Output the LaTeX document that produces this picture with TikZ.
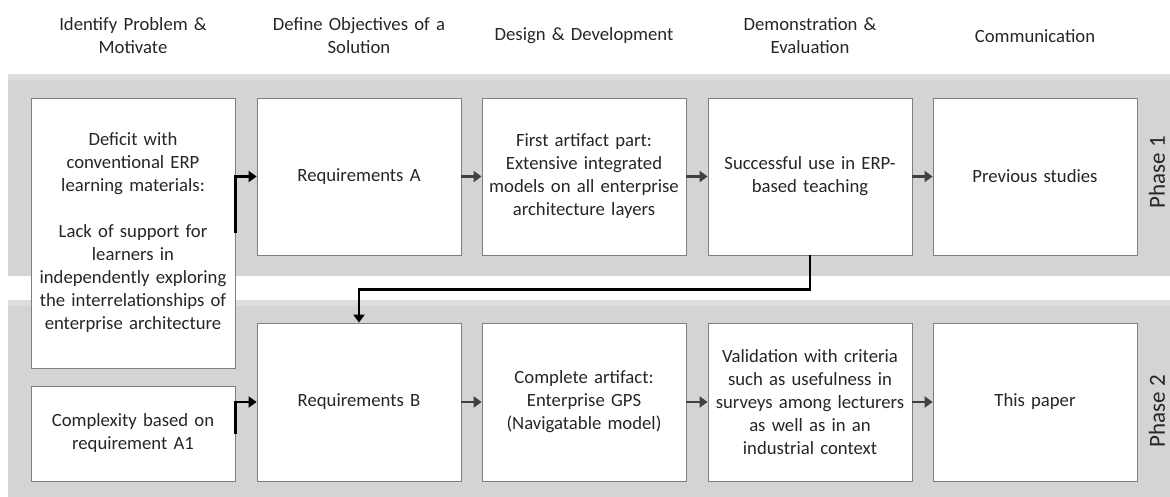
\documentclass[tikz,border=0pt]{standalone}
\usepackage{fontspec}
\setmainfont{Carlito}
\usetikzlibrary{arrows.meta}
\definecolor{band}{HTML}{D4D4D4}
\definecolor{bandtop}{HTML}{DDDDDD}
\definecolor{boxline}{HTML}{7F7F7F}
\definecolor{arrowgray}{HTML}{404040}
\begin{document}
\begin{tikzpicture}[x=1pt,y=-1pt,
  every node/.style={font=\fontsize{18.7}{23}\selectfont, text=black!85},
  stepbox/.style={draw=boxline, line width=0.8pt, fill=white, minimum width=204pt, minimum height=157pt, text width=200pt, align=center, inner sep=0pt},
  head/.style={align=center, text width=220pt},
  phase/.style={rotate=90, font=\fontsize{23}{26}\selectfont},
  flow/.style={draw=arrowgray, line width=2.2pt, -{Triangle[length=8pt,width=11pt]}},
  link/.style={draw=black, line width=2.2pt, -{Triangle[length=8pt,width=11pt]}}
]
\path[use as bounding box] (0,0) rectangle (1170,497);
% bands
\fill[band] (8,74) rectangle (1170,276);
\fill[bandtop] (8,74) rectangle (1170,80);
\fill[band] (8,300) rectangle (1170,497);
\fill[bandtop] (8,300) rectangle (1170,306);
% headers
\node[head] (h1) at (133,36) {Identify Problem \&\\Motivate};
\node[head] (h2) at (359,36) {Define Objectives of a\\Solution};
\node[head] (h3) at (584,36) {Design \& Development};
\node[head] (h4) at (810,36) {Demonstration \&\\Evaluation};
\node[head] (h5) at (1035,36) {Communication};
% phase labels
\node[phase] (p1) at (1157,172) {Phase 1};
\node[phase] (p2) at (1157,411) {Phase 2};
% phase 1 boxes
\node[stepbox, minimum height=270pt] (def) at (133,233) {Deficit with\\conventional ERP\\learning materials:\\[23pt]Lack of support for\\learners in\\independently exploring\\the interrelationships of\\enterprise architecture};
\node[stepbox] (reqA) at (359,176.5) {Requirements A};
\node[stepbox] (art1) at (584,176.5) {First artifact part:\\Extensive integrated\\models on all enterprise\\architecture layers};
\node[stepbox] (succ) at (810,176.5) {Successful use in ERP-\\based teaching};
\node[stepbox] (prev) at (1035,176.5) {Previous studies};
% phase 2 boxes
\node[stepbox, minimum height=95pt] (cplx) at (133,433.5) {Complexity based on\\requirement A1};
\node[stepbox, minimum height=158pt] (reqB) at (359,402) {Requirements B};
\node[stepbox, minimum height=158pt] (art2) at (584,402) {Complete artifact:\\Enterprise GPS\\(Navigatable model)};
\node[stepbox, minimum height=158pt] (valid) at (810,402) {Validation with criteria\\such as usefulness in\\surveys among lecturers\\as well as in an\\industrial context};
\node[stepbox, minimum height=158pt] (paper) at (1035,402) {This paper};
% connectors
\draw[link] (def.east) |- (reqA.west);
\draw[flow] (reqA) -- (art1);
\draw[flow] (art1) -- (succ);
\draw[flow] (succ) -- (prev);
\draw[link] (succ.south) -- ++(0,34) -| (reqB.north);
\draw[link] (cplx.east) |- (reqB.west);
\draw[flow] (reqB) -- (art2);
\draw[flow] (art2) -- (valid);
\draw[flow] (valid) -- (paper);
\end{tikzpicture}
\end{document}
